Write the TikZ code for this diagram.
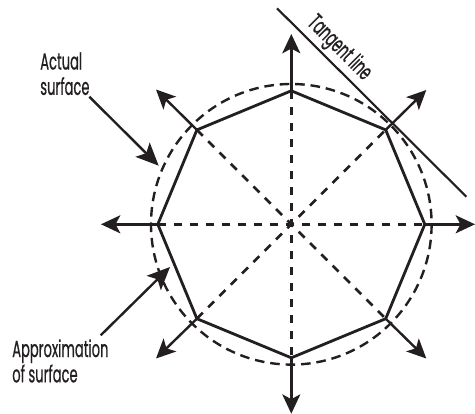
\documentclass[tikz,border=0pt]{standalone}
\usepackage{fontspec}
\setmainfont[FakeStretch=0.56,FakeBold=0.6]{Poppins}
\usetikzlibrary{arrows.meta}
\definecolor{ink}{HTML}{231F20}
\tikzset{
  x=0.75pt,y=-0.75pt,
  solidline/.style={draw=ink,line width=2.1pt,line join=miter},
  spoke/.style={draw=ink,line width=2pt,dash pattern=on 6.3pt off 5.7pt},
  circ/.style={draw=ink,line width=1.8pt,dash pattern=on 7.2pt off 4.4pt},
  normal/.style={draw=ink,line width=1.8pt,-{Stealth[length=14.5pt,width=13.5pt,inset=3.6pt]}},
  callout/.style={draw=ink,line width=1.8pt,-{Stealth[length=17pt,width=15pt,inset=3.8pt]}},
  tangent/.style={draw=ink,line width=1.6pt},
  lbl/.style={text=ink,font=\fontsize{17.5pt}{19pt}\selectfont,align=left,inner sep=0pt},
}
\begin{document}
\begin{tikzpicture}
\useasboundingbox (0,0) rectangle (475,414);
\coordinate (c) at (291.3,224.3);
% octagon vertices
\coordinate (ve) at (424.8,224.3);
\coordinate (vne) at (385.7,129.9);
\coordinate (vn) at (291.3,90.8);
\coordinate (vnw) at (196.9,129.9);
\coordinate (vw) at (157.8,224.3);
\coordinate (vsw) at (196.9,318.7);
\coordinate (vs) at (291.3,357.8);
\coordinate (vse) at (385.7,318.7);
% arrow tips
\coordinate (te) at (475,224.3);
\coordinate (tne) at (426.3,90);
\coordinate (tn) at (291.3,34);
\coordinate (tnw) at (156,89.5);
\coordinate (tw) at (101,224.3);
\coordinate (tsw) at (156,358.5);
\coordinate (ts) at (291.3,413.7);
\coordinate (tse) at (426.3,358.5);
% dashed spokes
\draw[spoke] (vw) -- (ve);
\draw[spoke] (vn) -- (vs);
\draw[spoke] (vnw) -- (vse);
\draw[spoke] (vsw) -- (vne);
% actual surface
\draw[circ] (c) circle (140.3);
% approximation
\draw[solidline] (ve) -- (vne) -- (vn) -- (vnw) -- (vw) -- (vsw) -- (vs) -- (vse) -- cycle;
% normals
\foreach \d in {e,ne,n,nw,w,sw,s,se}{
  \draw[normal] (v\d) -- (t\d);
}
% tangent line
\coordinate (ta) at (277,8.3);
\coordinate (tb) at (466.3,196.7);
\draw[tangent] (ta) -- (tb);
\node[lbl,rotate=-45] (tl) at (339,48.5) {Tangent line};
% labels
\node[lbl,anchor=north west] (as) at (40,52) {Actual\\surface};
\node[lbl,anchor=north west] (ap) at (12,339) {Approximation\\of surface};
\coordinate (asa) at (89.3,96.7);
\coordinate (asb) at (158.7,165.7);
\coordinate (apa) at (100.7,335.3);
\coordinate (apb) at (170,267);
\draw[callout] (asa) -- (asb);
\draw[callout] (apa) -- (apb);
\end{tikzpicture}
\end{document}
